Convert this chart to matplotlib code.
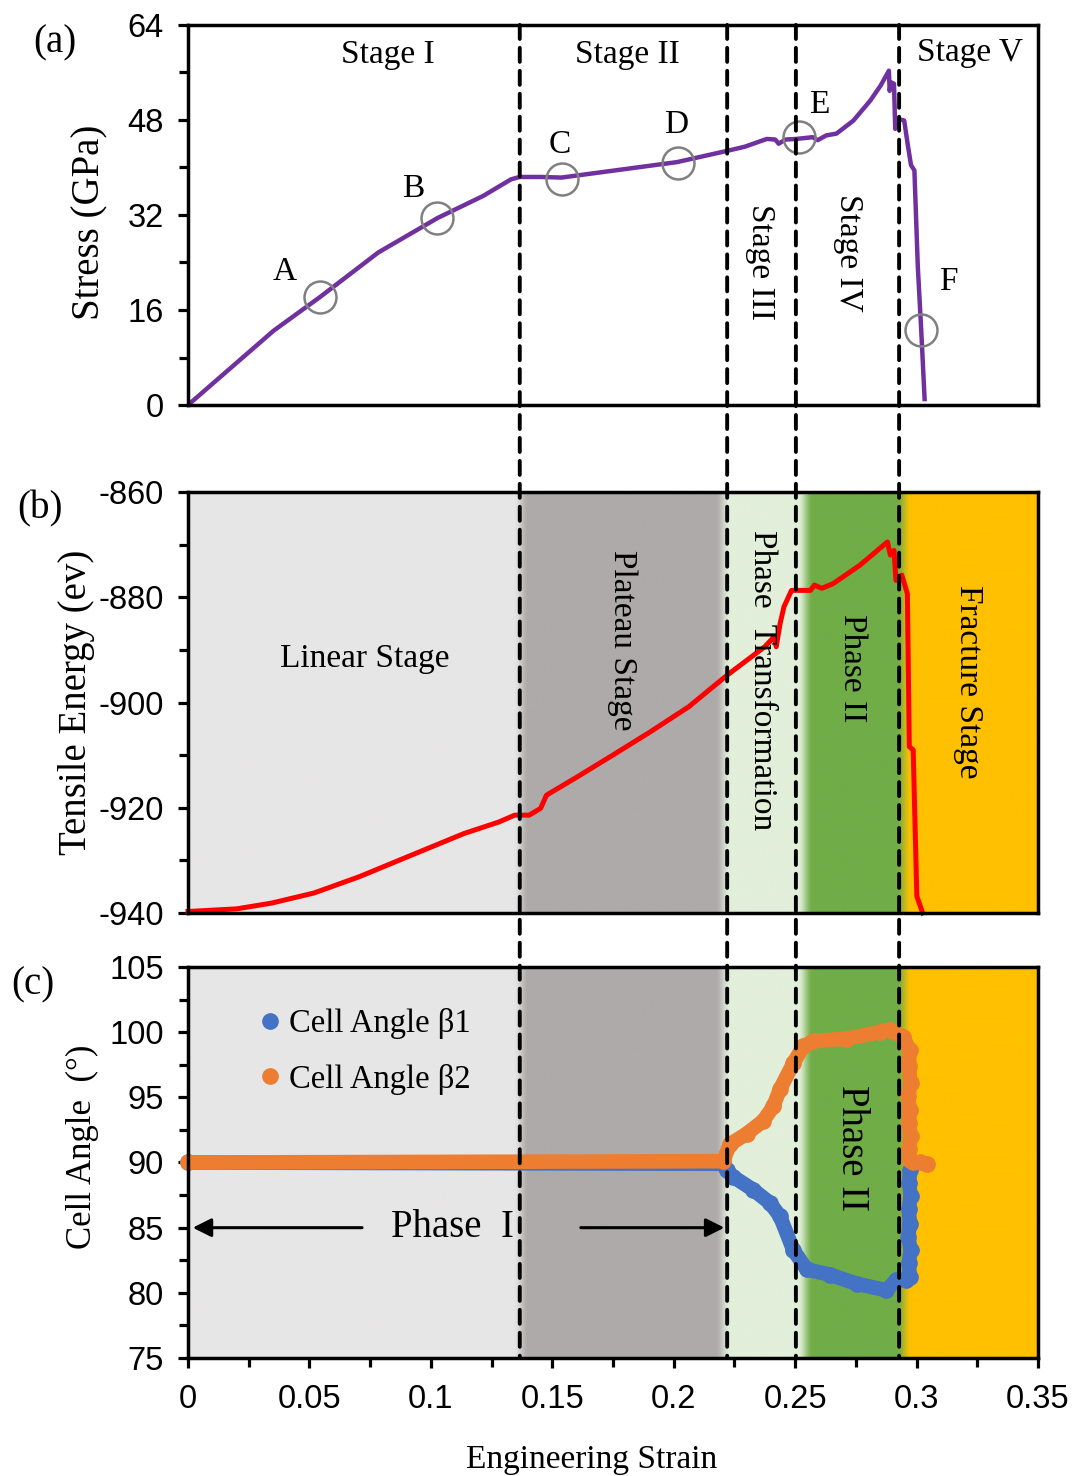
import matplotlib
matplotlib.use("Agg")
import matplotlib.pyplot as plt
import numpy as np
from matplotlib.patches import ConnectionPatch
from matplotlib.lines import Line2D
from matplotlib.ticker import MultipleLocator, FuncFormatter
from matplotlib.colors import to_rgb

plt.rcParams['font.family'] = ['Liberation Serif', 'DejaVu Serif']

# ---- (a) stress vs strain ----
strain_a = [0, 0.0352, 0.0544, 0.0784, 0.1028, 0.1215, 0.1330, 0.1366, 0.1454, 0.1538,
            0.2013, 0.222, 0.2293, 0.2383, 0.2418, 0.2432, 0.246, 0.2503, 0.2572, 0.2593,
            0.2628, 0.267, 0.274, 0.281, 0.2852, 0.2886, 0.2889, 0.2896, 0.2907, 0.2912,
            0.2921, 0.2949, 0.2963, 0.2977, 0.2991, 0.3005, 0.3019, 0.3033]
stress_a = [0, 12.5, 18.2, 25.7, 31.5, 35.2, 38.0, 38.4, 38.4, 38.3,
            40.9, 42.8, 43.5, 44.8, 44.7, 44.0, 44.7, 44.8, 45.1, 44.6,
            45.4, 45.7, 47.9, 51.3, 53.8, 56.3, 52.9, 54.3, 54.1, 46.5,
            48.2, 47.9, 44.0, 40.4, 39.5, 23.3, 12.7, 1.0]
point_names = ['A', 'B', 'C', 'D', 'E', 'F']
point_strain = [0.0545, 0.1025, 0.154, 0.2017, 0.2516, 0.3019]
point_stress = [18.2, 31.5, 38.0, 40.8, 45.1, 12.7]

# ---- (b) tensile energy vs strain ----
strain_b = [0, 0.0201, 0.0345, 0.0518, 0.0705, 0.092, 0.1136, 0.128, 0.1345, 0.1366,
            0.1405, 0.1452, 0.1476, 0.1593, 0.1749, 0.1906, 0.2062, 0.222, 0.2375, 0.2414,
            0.2422, 0.2438, 0.2454, 0.2485, 0.2563, 0.2579, 0.261, 0.2657, 0.2767, 0.288,
            0.2892, 0.2907, 0.2915, 0.2939, 0.2962, 0.297, 0.2986, 0.3001, 0.3025]
energy_b = [-939.7, -939.2, -938.1, -936.2, -933.1, -929.0, -924.9, -922.7, -921.4, -921.4,
            -921.4, -920.1, -917.6, -914.4, -910.0, -905.5, -900.8, -894.8, -889.4, -887.5,
            -889.4, -885.0, -881.8, -878.7, -878.7, -877.7, -878.3, -877.4, -873.9, -869.5,
            -872.0, -871.1, -876.8, -875.8, -879.3, -908.4, -909.0, -936.8, -940.0]

# ---- (c) cell angles vs strain ----
strain_beta1 = [0, 0.2204, 0.2218, 0.2245, 0.2328, 0.2396, 0.2437, 0.2492, 0.2547, 0.2643,
                0.2753, 0.2876, 0.2917, 0.2958, 0.2972, 0.2968, 0.2975, 0.2966, 0.2972,
                0.2968, 0.2975, 0.297, 0.2972]
beta1 = [90.0, 89.9, 89.4, 88.9, 87.9, 86.9, 85.9, 83.3, 81.8, 81.4,
         80.7, 80.2, 81.0, 81.0, 81.2, 82.3, 83.3, 84.3, 85.3,
         86.4, 87.4, 88.4, 89.4]
strain_beta2 = [0, 0.2204, 0.2231, 0.2300, 0.2369, 0.241, 0.2437, 0.2492, 0.2533, 0.2574,
                0.2711, 0.2849, 0.289, 0.2945, 0.2972, 0.2968, 0.2975, 0.2966, 0.2972,
                0.2968, 0.2975, 0.297, 0.2972, 0.2986, 0.3013, 0.3041]
beta2 = [90.0, 90.1, 91.4, 92.2, 93.2, 94.3, 95.6, 97.6, 98.9, 99.3,
         99.5, 100.0, 100.2, 99.6, 98.6, 97.4, 96.1, 95.1, 94.0,
         93.0, 92.0, 91.0, 90.2, 90.0, 90.0, 89.9]

stage_bounds = [0.1366, 0.222, 0.2503, 0.2928]
shade_edges = [0.137, 0.220, 0.254, 0.2946]
shade_colors = ['#E7E6E6', '#AEAAAA', '#E2EFDA', '#70AD47', '#FFC000']

XMAX = 0.35
fig = plt.figure(figsize=(10.75, 14.76), dpi=100)
ax_a = fig.add_axes([0.1749, 0.7256, 0.7907, 0.2575])
ax_b = fig.add_axes([0.1749, 0.3814, 0.7907, 0.2853])
ax_c = fig.add_axes([0.1749, 0.0799, 0.7907, 0.2650])


def shade(ax, ylo, yhi):
    xs = np.linspace(0, XMAX, 1751)
    rgb = np.tile(np.array(to_rgb(shade_colors[0])), (xs.size, 1))
    for edge, col in zip(shade_edges, shade_colors[1:]):
        w = np.clip((xs - edge) / 0.006 + 0.5, 0, 1)
        w = w * w * (3 - 2 * w)
        rgb = rgb * (1 - w[:, None]) + np.array(to_rgb(col)) * w[:, None]
    ax.imshow(rgb[None, :, :], extent=[0, XMAX, ylo, yhi], aspect='auto',
              interpolation='bilinear', zorder=0)


def style(ax, ylo, yhi, major, minor, xticks):
    ax.set_xlim(0, XMAX)
    ax.set_ylim(ylo, yhi)
    for s in ax.spines.values():
        s.set_linewidth(2.5)
    ax.yaxis.set_major_locator(MultipleLocator(major))
    ax.yaxis.set_minor_locator(MultipleLocator(minor))
    ax.xaxis.set_major_locator(MultipleLocator(0.05))
    ax.xaxis.set_minor_locator(MultipleLocator(0.025))
    ax.tick_params(which='both', direction='out', width=2.3, labelsize=23.5,
                   labelfontfamily='Liberation Sans', top=False, right=False)
    ax.tick_params(which='major', length=7.5)
    ax.tick_params(which='minor', length=6.5)
    ax.tick_params(axis='y', pad=10)
    ax.tick_params(axis='x', pad=11)
    if not xticks:
        ax.tick_params(axis='x', which='both', bottom=False, labelbottom=False)
    ax.yaxis.set_major_formatter(FuncFormatter(lambda v, p: '{:g}'.format(v)))
    ax.xaxis.set_major_formatter(FuncFormatter(lambda v, p: '{:g}'.format(v)))


# (a)
style(ax_a, 0, 64, 16, 8, False)
ax_a.plot(strain_a, stress_a, color='#7030A0', lw=3.2)
ax_a.plot(point_strain, point_stress, 'o', ms=23, mfc='none', mec='#808080', mew=1.8)
label_xy = [(0.040, 22.4), (0.0926, 36.5), (0.1532, 43.8), (0.201, 47.2), (0.260, 50.5), (0.313, 20.7)]
for name, (lx, ly) in zip(point_names, label_xy):
    ax_a.text(lx, ly, name, fontsize=24, ha='center', va='center')
ax_a.text(0.0824, 59.0, 'Stage I', fontsize=24, ha='center', va='center')
ax_a.text(0.181, 59.0, 'Stage II', fontsize=24, ha='center', va='center')
ax_a.text(0.322, 59.3, 'Stage V', fontsize=24, ha='center', va='center')
ax_a.text(0.2355, 24.1, 'Stage III', fontsize=24, ha='center', va='center', rotation=-90)
ax_a.text(0.2718, 25.6, 'Stage IV', fontsize=24, ha='center', va='center', rotation=-90)
ax_a.set_ylabel('Stress (GPa)', fontsize=28)
ax_a.yaxis.set_label_coords(-0.094, 0.48)

# (b)
shade(ax_b, -940, -860)
style(ax_b, -940, -860, 20, 10, False)
ax_b.plot(strain_b, energy_b, color='#FF0000', lw=3.6, clip_on=False)
ax_b.text(0.0729, -891.6, 'Linear Stage', fontsize=24, ha='center', va='center')
ax_b.text(0.1787, -888.1, 'Plateau Stage', fontsize=24, ha='center', va='center', rotation=-90)
ax_b.text(0.2364, -895.7, 'Phase  Transformation', fontsize=24, ha='center', va='center', rotation=-90)
ax_b.text(0.2734, -893.5, 'Phase II', fontsize=24, ha='center', va='center', rotation=-90)
ax_b.text(0.3212, -896.1, 'Fracture Stage', fontsize=24, ha='center', va='center', rotation=-90)
ax_b.set_ylabel('Tensile Energy (ev)', fontsize=28)
ax_b.yaxis.set_label_coords(-0.109, 0.5)

# (c)
shade(ax_c, 75, 105)
style(ax_c, 75, 105, 5, 2.5, True)
ax_c.plot(strain_beta1, beta1, color='#4472C4', lw=10.5, marker='o', ms=11,
          solid_capstyle='round', solid_joinstyle='round', clip_on=False)
ax_c.plot(strain_beta2, beta2, color='#ED7D31', lw=10.5, marker='o', ms=11,
          solid_capstyle='round', solid_joinstyle='round', clip_on=False)
handles = [Line2D([], [], ls='', marker='o', ms=11, color='#4472C4'),
           Line2D([], [], ls='', marker='o', ms=11, color='#ED7D31')]
ax_c.legend(handles, ['Cell Angle \u03b21', 'Cell Angle \u03b22'], loc='upper left',
            bbox_to_anchor=(0.05, 0.97), frameon=False, fontsize=23.5,
            handlelength=0.6, handletextpad=0.3, labelspacing=0.75)
ax_c.annotate('', xy=(0.0008, 85), xytext=(0.0728, 85),
              arrowprops=dict(arrowstyle='-|>', color='black', lw=2.2, mutation_scale=28))
ax_c.annotate('', xy=(0.222, 85), xytext=(0.1606, 85),
              arrowprops=dict(arrowstyle='-|>', color='black', lw=2.2, mutation_scale=28))
ax_c.text(0.1087, 85, 'Phase  I', fontsize=28, ha='center', va='center')
ax_c.text(0.2734, 91.1, 'Phase II', fontsize=28, ha='center', va='center', rotation=-90)
ax_c.set_ylabel('Cell Angle  (\u00b0)', fontsize=25)
ax_c.yaxis.set_label_coords(-0.105, 0.54)
ax_c.set_xlabel('Engineering Strain', fontsize=24)
ax_c.xaxis.set_label_coords(0.475, -0.22)

# dashed stage boundaries across all panels
for xb in stage_bounds:
    con = ConnectionPatch(xyA=(xb, 64), coordsA=ax_a.transData,
                          xyB=(xb, 75), coordsB=ax_c.transData,
                          color='black', lw=2.8, linestyle=(0, (3.6, 2.3)))
    fig.add_artist(con)

fig.text(0.0512, 0.9709, '(a)', fontsize=28, ha='center', va='center')
fig.text(0.0372, 0.6551, '(b)', fontsize=28, ha='center', va='center')
fig.text(0.0307, 0.3327, '(c)', fontsize=28, ha='center', va='center')

fig.savefig('out.png', dpi=100)
